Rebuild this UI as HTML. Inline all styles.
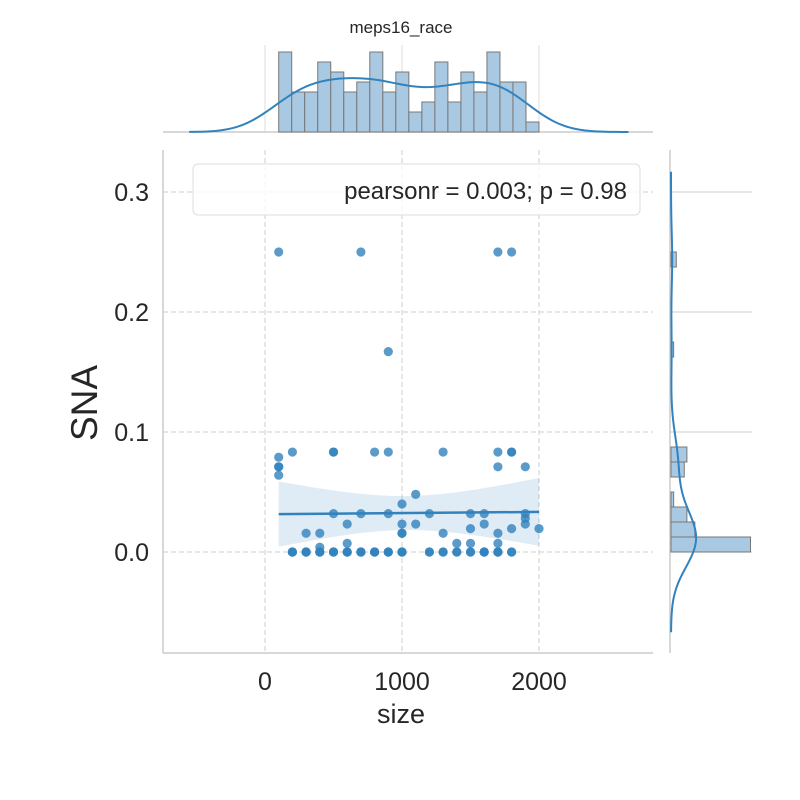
<!DOCTYPE html>
<html><head><meta charset="utf-8"><style>
body{margin:0;background:#fff}
svg{display:block;font-family:"Liberation Sans",Arial,sans-serif}
</style></head><body>
<svg id="c" width="800" height="800" viewBox="0 0 800 800"></svg>
<script>
// ---- data ----
const pointX = [100,700,1700,1800, 900,
  200,500,500,800,900,1300,1700,1800,1800,
  100, 100,100,1700,1900, 100,
  1100, 1000,
  500,700,900,1200,1500,1600,1900,
  1900,
  600,1000,1100,1600,1900,
  1500,1800,2000,
  300,400,1000,1000,1300,1700,
  600,1400,1700,1500, 400,
  200,300,400,500,600,700,800,900,1000,1200,1300,1400,1500,1600,1700,1800,
  200,200,300,300,400,400,500,500,600,600,700,700,800,800,900,900,1000,1000,1200,1300,1400,1500,1600,
  1600,1700,1800,1700];
const pointY = [0.25,0.25,0.25,0.25, 0.167,
  0.0833,0.0833,0.0833,0.0833,0.0833,0.0833,0.0833,0.0833,0.0833,
  0.079, 0.071,0.071,0.071,0.071, 0.064,
  0.048, 0.04,
  0.032,0.032,0.032,0.032,0.032,0.032,0.032,
  0.028,
  0.0233,0.0233,0.0233,0.0233,0.0233,
  0.0195,0.0195,0.0195,
  0.0156,0.0156,0.0156,0.0156,0.0156,0.0156,
  0.0072,0.0072,0.0072,0.0072,0.004,
  0,0,0,0,0,0,0,0,0,0,0,0,0,0,0,0,
  0,0,0,0,0,0,0,0,0,0,0,0,0,0,0,0,0,0,0,0,0,0,0,
  0,0,0,0];
const topCounts = [8,4,4,7,6,4,5,8,4,6,2,3,7,3,6,4,8,5,5,1];
const topBinStart = 100, topBinWidth = 95;
const sideCounts = [30,9,6,1,0,5,6,0,0,0,0,0,0,1,0,0,0,0,0,2];
const sideBinStart = 0, sideBinWidth = 0.0125;
const xTicks = [0,1000,2000];
const yTicks = [0.0,0.1,0.2,0.3];
const statText = "pearsonr = 0.003; p = 0.98";

// ---- scales ----
const X = v => 265 + v*0.137;
const Y = v => 552 - v*1200;
const TY = c => 132 - c*10;
const SX = c => 671 + c*2.65;
const svg = document.getElementById('c');
const NS = 'http://www.w3.org/2000/svg';
function mk(tag, attrs, parent){const e=document.createElementNS(NS,tag);for(const k in attrs)e.setAttribute(k,attrs[k]);(parent||svg).appendChild(e);return e;}

// ---- main grid ----
xTicks.forEach(t=>{const l=mk('line',{x1:X(t),x2:X(t),y1:150,y2:653,stroke:'#ccc','stroke-dasharray':'5,3'});

const g=mk('line',{x1:X(t),x2:X(t),y1:45,y2:132,stroke:'#ddd'});

const tx=mk('text',{x:X(t),y:690,'font-size':25,'text-anchor':'middle',fill:'#262626'});tx.textContent=t;
});
yTicks.forEach(t=>{const l=mk('line',{x1:163,x2:653,y1:Y(t),y2:Y(t),stroke:'#ccc','stroke-dasharray':'5,3'});

const g=mk('line',{x1:670,x2:752,y1:Y(t),y2:Y(t),stroke:'#ccc'});

const tx=mk('text',{x:149,y:Y(t)+9,'font-size':25,'text-anchor':'end',fill:'#262626'});tx.textContent=t.toFixed(1);
});

// spines
[[163,150,163,653],[163,653,653,653],[163,132,653,132],[670,150,670,653]].forEach(s=>{
const l=mk('line',{x1:s[0],y1:s[1],x2:s[2],y2:s[3],stroke:'#ccc','stroke-width':1.5});
});

// ---- regression ----
const n=pointX.length;
const mx=pointX.reduce((a,b)=>a+b)/n, my=pointY.reduce((a,b)=>a+b)/n;
let sxx=0,sxy=0;for(let i=0;i<n;i++){sxx+=(pointX[i]-mx)**2;sxy+=(pointX[i]-mx)*(pointY[i]-my);}
const b1=sxy/sxx,b0=my-b1*mx;
let sse=0;for(let i=0;i<n;i++)sse+=(pointY[i]-b0-b1*pointX[i])**2;
const s=Math.sqrt(sse/(n-2));
const xmin=Math.min(...pointX),xmax=Math.max(...pointX);
let up=[],lo=[];
for(let k=0;k<=40;k++){const x=xmin+(xmax-xmin)*k/40;const yh=b0+b1*x;const se=1.99*1.2*s*Math.sqrt(1/n+(x-mx)**2/sxx);
up.push(X(x)+','+Y(yh+se));lo.unshift(X(x)+','+Y(yh-se));}
const band=mk('polygon',{points:up.concat(lo).join(' '),fill:'#3182bd','fill-opacity':0.15});


// points
for(let i=0;i<n;i++){const c=mk('circle',{cx:X(pointX[i]),cy:Y(pointY[i]),r:4.6,fill:'#3182bd','fill-opacity':0.8});
}
const rl=mk('line',{x1:X(xmin),y1:Y(b0+b1*xmin),x2:X(xmax),y2:Y(b0+b1*xmax),stroke:'#3182bd','stroke-width':2.5});


// ---- top histogram ----
topCounts.forEach((c,i)=>{const x0=X(topBinStart+i*topBinWidth),x1=X(topBinStart+(i+1)*topBinWidth);
const r=mk('rect',{x:x0,y:TY(c),width:x1-x0,height:132-TY(c),fill:'#a9c9e3',stroke:'#777','stroke-width':1});
});
function kde(counts,start,w,lo,hi,steps){
 let N=0,m=0;counts.forEach((c,i)=>{N+=c;m+=c*(start+(i+.5)*w);});m/=N;
 let v=0;counts.forEach((c,i)=>{v+=c*(start+(i+.5)*w-m)**2;});const sd=Math.sqrt(v/(N-1));
 const bw=sd*Math.pow(N,-0.2);const out=[];
 for(let k=0;k<=steps;k++){const x=lo+(hi-lo)*k/steps;let d=0;
  counts.forEach((c,i)=>{const z=(x-(start+(i+.5)*w))/bw;d+=c*Math.exp(-z*z/2);});
  d=d/(N*bw*Math.sqrt(2*Math.PI));out.push([x,d*N*w]);}
 return {out,bw};}
{const cmin=topBinStart,cmax=topBinStart+topCounts.length*topBinWidth;
 const k0=kde(topCounts,topBinStart,topBinWidth,0,1,1);const bw=k0.bw;
 const k=kde(topCounts,topBinStart,topBinWidth,cmin-3*bw,cmax+3*bw,120).out;
 const p=mk('polyline',{points:k.map(q=>X(q[0])+','+TY(q[1])).join(' '),fill:'none',stroke:'#3182bd','stroke-width':2});
 }

// ---- side histogram ----
sideCounts.forEach((c,i)=>{if(!c)return;const y0=Y(sideBinStart+(i+1)*sideBinWidth),y1=Y(sideBinStart+i*sideBinWidth);
const r=mk('rect',{x:671,y:y0,width:SX(c)-671,height:y1-y0,fill:'#a9c9e3',stroke:'#777','stroke-width':1});
});
{const k0=kde(sideCounts,sideBinStart,sideBinWidth,0,1,1);const bw=k0.bw;
 const lo=sideBinStart,hi=sideBinStart+sideCounts.length*sideBinWidth;
 const k=kde(sideCounts,sideBinStart,sideBinWidth,lo-3*bw,hi+3*bw,150).out;
 const p=mk('polyline',{points:k.map(q=>SX(q[1])+','+Y(q[0])).join(' '),fill:'none',stroke:'#3182bd','stroke-width':2});
 }

// ---- legend ----
const lb=mk('rect',{x:193,y:164,width:447,height:51,rx:5,fill:'#fff','fill-opacity':0.8,stroke:'#ddd'});

const lt=mk('text',{x:627,y:199,'font-size':24,'text-anchor':'end',fill:'#262626'});lt.textContent=statText;


// ---- labels ----
const xl=mk('text',{x:401,y:723,'font-size':27,'text-anchor':'middle',fill:'#262626'});xl.textContent='size';

const yl=mk('text',{x:97,y:403,'font-size':37,'text-anchor':'middle',fill:'#262626',transform:'rotate(-90 97 403)'});yl.textContent='SNA';

const tt=mk('text',{x:401,y:33,'font-size':17,'text-anchor':'middle',fill:'#262626'});tt.textContent='meps16_race';

</script>
</body></html>
